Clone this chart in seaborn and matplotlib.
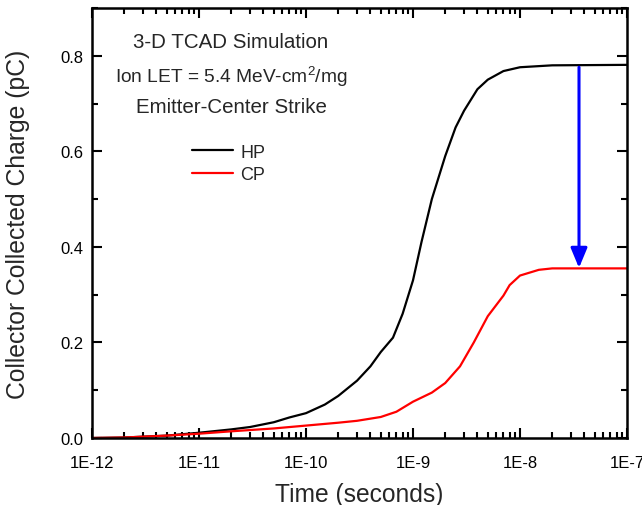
import numpy as np
import pandas as pd
import matplotlib
matplotlib.use("Agg")
import matplotlib.pyplot as plt
from matplotlib.ticker import FixedLocator, FixedFormatter, LogLocator, MultipleLocator
import seaborn as sns

# ---- data ----
hp_time = [1e-12, 2e-12, 5e-12, 1e-11, 2e-11, 3e-11, 5e-11, 7e-11, 1e-10, 1.5e-10, 2e-10,
           3e-10, 4e-10, 5e-10, 6.5e-10, 8e-10, 1e-9, 1.2e-9, 1.5e-9, 2e-9, 2.5e-9, 3e-9,
           4e-9, 5e-9, 7e-9, 1e-8, 2e-8, 1e-7]
hp_charge = [0.0, 0.001, 0.005, 0.011, 0.018, 0.023, 0.033, 0.043, 0.052, 0.07, 0.088,
             0.12, 0.15, 0.18, 0.21, 0.26, 0.33, 0.41, 0.50, 0.59, 0.65, 0.685,
             0.73, 0.75, 0.768, 0.776, 0.780, 0.781]

cp_time = [1e-12, 2e-12, 5e-12, 1e-11, 2e-11, 5e-11, 1e-10, 2e-10, 3e-10, 5e-10, 7e-10,
           1e-9, 1.5e-9, 2e-9, 2.75e-9, 3.7e-9, 5e-9, 7e-9, 8e-9, 1e-8, 1.5e-8, 2e-8, 1e-7]
cp_charge = [0.0, 0.001, 0.005, 0.009, 0.014, 0.02, 0.026, 0.032, 0.036, 0.044, 0.055,
             0.076, 0.095, 0.115, 0.15, 0.2, 0.255, 0.298, 0.32, 0.34, 0.352, 0.355, 0.355]

series_names = ["HP", "CP"]
series_colors = ["#000000", "#ff0000"]

x_ticks = [1e-12, 1e-11, 1e-10, 1e-9, 1e-8, 1e-7]
x_tick_labels = ["1E-12", "1E-11", "1E-10", "1E-9", "1E-8", "1E-7"]
y_ticks = [0.0, 0.2, 0.4, 0.6, 0.8]
y_tick_labels = ["0.0", "0.2", "0.4", "0.6", "0.8"]

arrow_time = 3.56e-8
arrow_from = 0.776
arrow_to = 0.356

annotation_lines = ["3-D TCAD Simulation",
                    r"Ion LET = 5.4 MeV-cm$^{2}$/mg",
                    "Emitter-Center Strike"]

# ---- style ----
sns.set_theme(style="ticks")
plt.rcParams["font.family"] = ["Liberation Sans", "DejaVu Sans"]
plt.rcParams["mathtext.fontset"] = "custom"
plt.rcParams["mathtext.rm"] = "Liberation Sans"
plt.rcParams["mathtext.it"] = "Liberation Sans:italic"
plt.rcParams["mathtext.bf"] = "Liberation Sans:bold"

df = pd.concat([
    pd.DataFrame({"Time": hp_time, "Charge": hp_charge, "Series": series_names[0]}),
    pd.DataFrame({"Time": cp_time, "Charge": cp_charge, "Series": series_names[1]}),
], ignore_index=True)

fig = plt.figure(figsize=(6.42, 5.06), dpi=100)
ax = fig.add_axes([92 / 642, 1 - 439 / 506, 535 / 642, 430 / 506])

sns.lineplot(data=df, x="Time", y="Charge", hue="Series",
             palette=dict(zip(series_names, series_colors)),
             linewidth=1.6, ax=ax, sort=True, estimator=None)

ax.set_xscale("log")
ax.set_xlim(1e-12, 1e-7)
ax.set_ylim(0, 0.9)

ax.xaxis.set_major_locator(FixedLocator(x_ticks))
ax.xaxis.set_major_formatter(FixedFormatter(x_tick_labels))
ax.xaxis.set_minor_locator(LogLocator(base=10, subs=np.arange(2, 10)))
ax.yaxis.set_major_locator(FixedLocator(y_ticks))
ax.yaxis.set_major_formatter(FixedFormatter(y_tick_labels))
ax.yaxis.set_minor_locator(MultipleLocator(0.1))

ax.tick_params(which="both", direction="in", top=True, right=True, width=1.5,
               colors="black", labelsize=12)
ax.tick_params(which="major", length=7)
ax.tick_params(which="minor", length=4)
ax.tick_params(axis="x", which="major", pad=12)
ax.tick_params(axis="y", which="major", pad=6)
for s in ax.spines.values():
    s.set_linewidth(1.8)
    s.set_color("black")

ax.set_xlabel("Time (seconds)", fontsize=17.7, labelpad=9)
ax.set_ylabel("Collector Collected Charge (pC)", fontsize=17.8, labelpad=22)

leg = ax.legend(frameon=False, loc="upper left", bbox_to_anchor=(0.157, 0.722),
                fontsize=13, handlelength=2.25, handletextpad=0.4, labelspacing=0.3)
for line in leg.get_lines():
    line.set_linewidth(1.6)

text_sizes = [14.8, 13.8, 14.8]
text_y = [0.922, 0.843, 0.772]
for txt, fs, yy in zip(annotation_lines, text_sizes, text_y):
    ax.text(0.26, yy, txt, transform=ax.transAxes,
            ha="center", va="center", fontsize=fs)

ax.annotate("", xy=(arrow_time, arrow_to), xytext=(arrow_time, arrow_from),
            arrowprops=dict(arrowstyle="-|>,head_length=0.6,head_width=0.25",
                            color="#0000ff", lw=2.2, mutation_scale=20,
                            shrinkA=0, shrinkB=0))

fig.savefig("out.png", dpi=100)
